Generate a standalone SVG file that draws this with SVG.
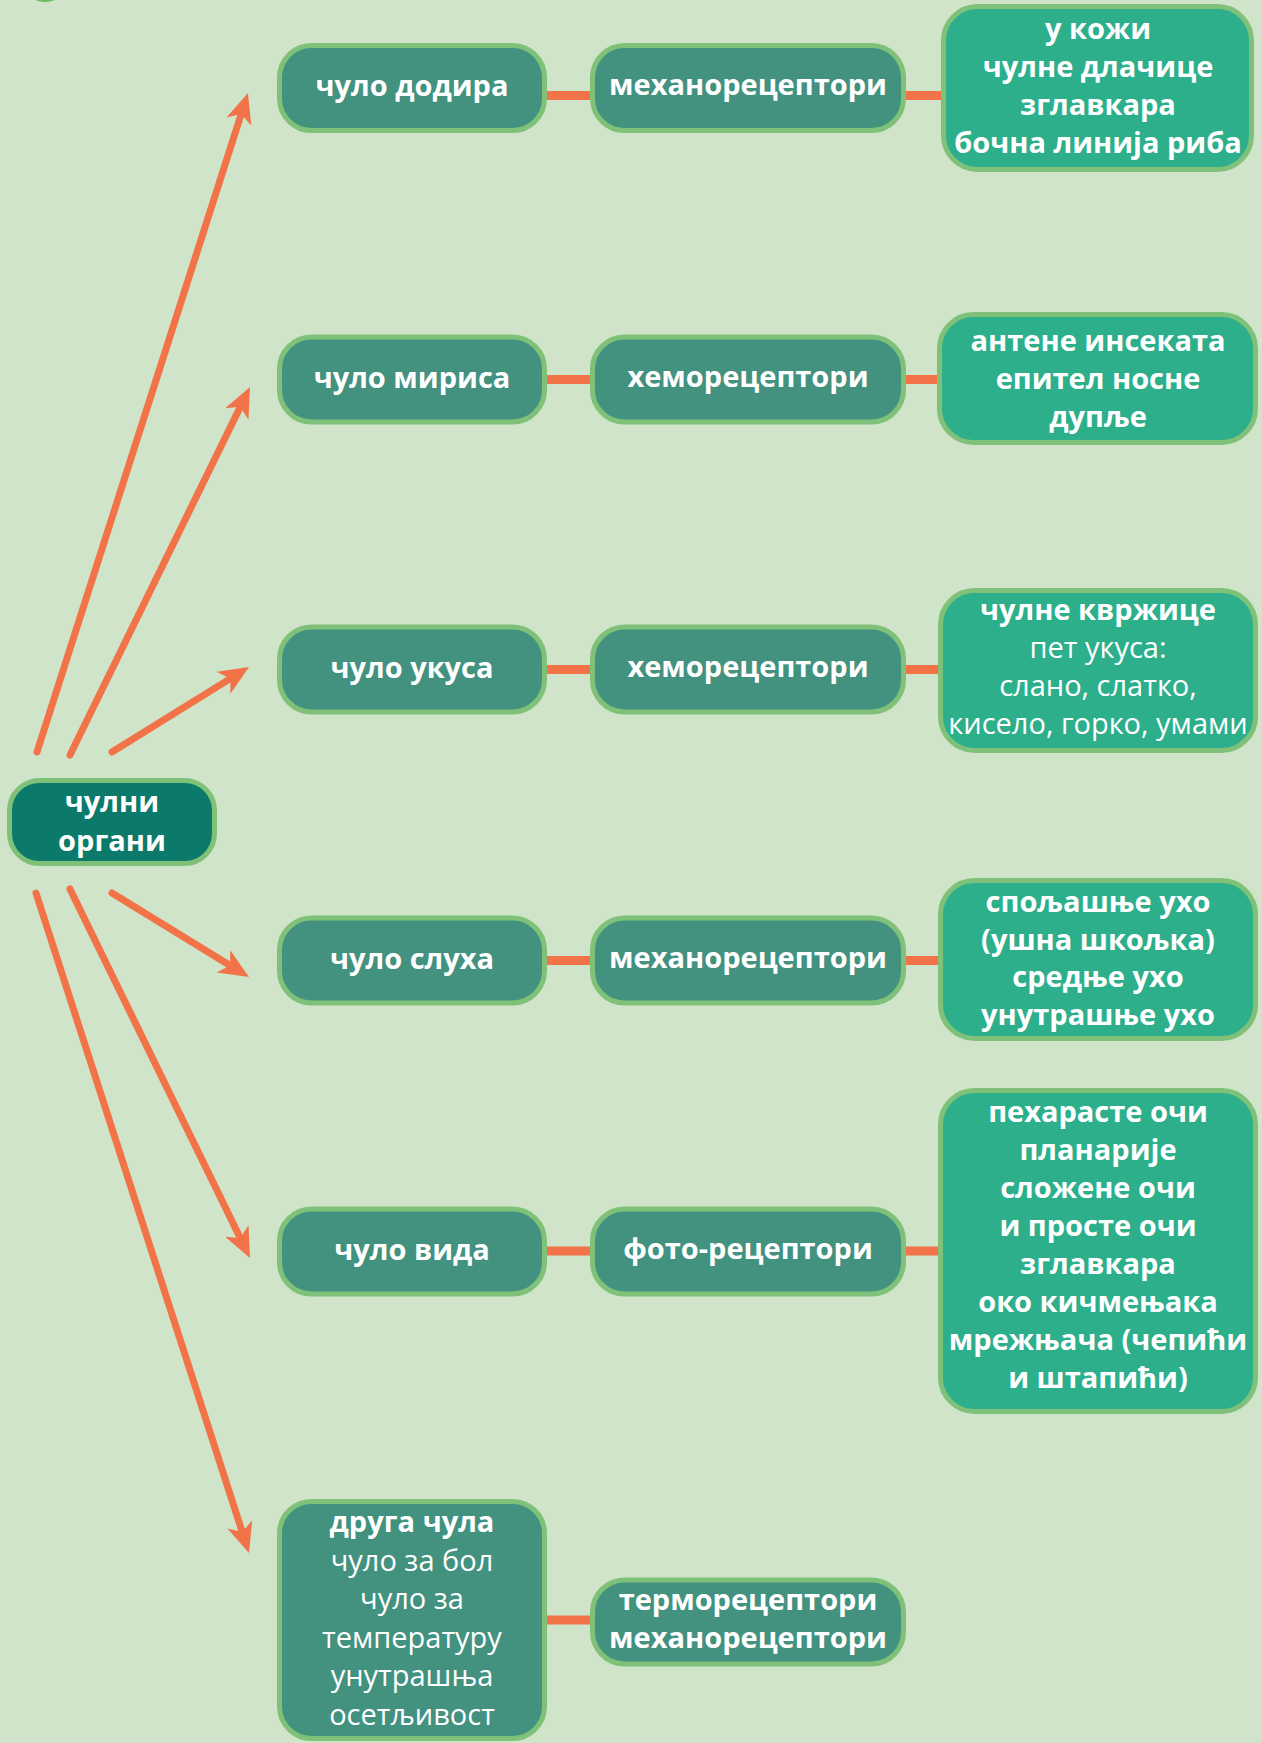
<svg xmlns="http://www.w3.org/2000/svg" width="1262" height="1743" viewBox="0 0 1262 1743">
<defs>
<style>
.bg{fill:#d0e4c9}
.n{fill:#42927f;stroke:#7fc178;stroke-width:5}
.c{fill:#0b7a6a;stroke:#7fc178;stroke-width:5}
.d{fill:#2daf8c;stroke:#7fc178;stroke-width:5}
text{font-family:"Open Sans","Noto Sans","DejaVu Sans",sans-serif;font-size:29px;fill:#ffffff;text-anchor:middle}
.b{font-weight:700}
.r{font-weight:400}
.ar{stroke:#f17347;stroke-width:7;stroke-linecap:round;fill:none}
.ln{stroke:#f17347;stroke-width:9;fill:none}
</style>
<marker id="ah" viewBox="0 0 30 26" markerWidth="30" markerHeight="26" refX="15" refY="13" orient="auto" markerUnits="userSpaceOnUse">
<path d="M0,0 L30,13 L0,26 L8,13 z" fill="#f17347"/>
</marker>
</defs>
<rect class="bg" x="0" y="0" width="1262" height="1743"/>
<circle cx="45" cy="-24" r="26" fill="#6dbb62"/>

<g id="connectors">
<line class="ar" x1="37" y1="752" x2="243.4" y2="107.3" marker-end="url(#ah)"/>
<line class="ar" x1="70" y1="755" x2="243.4" y2="400.5" marker-end="url(#ah)"/>
<line class="ar" x1="112" y1="752" x2="236.3" y2="674.9" marker-end="url(#ah)"/>
<line class="ar" x1="112" y1="893" x2="236.2" y2="969.2" marker-end="url(#ah)"/>
<line class="ar" x1="70" y1="889" x2="243.4" y2="1244.5" marker-end="url(#ah)"/>
<line class="ar" x1="36" y1="893" x2="244.4" y2="1538.7" marker-end="url(#ah)"/>
<line class="ln" x1="545" y1="95.5" x2="593" y2="95.5"/>
<line class="ln" x1="904" y1="95.5" x2="943" y2="95.5"/>
<line class="ln" x1="545" y1="379.5" x2="593" y2="379.5"/>
<line class="ln" x1="904" y1="379.5" x2="941" y2="379.5"/>
<line class="ln" x1="545" y1="669.5" x2="593" y2="669.5"/>
<line class="ln" x1="904" y1="669.5" x2="942" y2="669.5"/>
<line class="ln" x1="545" y1="960.5" x2="593" y2="960.5"/>
<line class="ln" x1="904" y1="960.5" x2="942" y2="960.5"/>
<line class="ln" x1="545" y1="1251" x2="593" y2="1251"/>
<line class="ln" x1="904" y1="1251" x2="942" y2="1251"/>
<line class="ln" x1="545" y1="1620" x2="593" y2="1620"/>
</g>

<g id="root">
<rect class="c" x="9.5" y="780.5" width="205" height="83" rx="30"/>
<text class="b" x="112" y="812">чулни</text>
<text class="b" x="112" y="851">органи</text>
</g>

<g id="touch">
<rect class="n" x="279.5" y="45.5" width="265" height="85" rx="32"/>
<text class="b" x="412" y="96">чуло додира</text>
</g>
<g id="touch-rec">
<rect class="n" x="592.5" y="45.5" width="311" height="85" rx="32"/>
<text class="b" x="748" y="95">механорецептори</text>
</g>
<g id="touch-det">
<rect class="d" x="943.5" y="6.5" width="308" height="163" rx="34"/>
<text class="b" x="1098" y="39">у кожи</text>
<text class="b" x="1098" y="77">чулне длачице</text>
<text class="b" x="1098" y="115">зглавкара</text>
<text class="b" x="1098" y="153">бочна линија риба</text>
</g>

<g id="smell">
<rect class="n" x="279.5" y="337" width="265" height="85" rx="32"/>
<text class="b" x="412" y="388">чуло мириса</text>
</g>
<g id="smell-rec">
<rect class="n" x="592.5" y="337" width="311" height="85" rx="32"/>
<text class="b" x="748" y="387">хеморецептори</text>
</g>
<g id="smell-det">
<rect class="d" x="939.5" y="314.5" width="316" height="128" rx="34"/>
<text class="b" x="1098" y="351">антене инсеката</text>
<text class="b" x="1098" y="389">епител носне</text>
<text class="b" x="1098" y="427">дупље</text>
</g>

<g id="taste">
<rect class="n" x="279.5" y="627" width="265" height="85" rx="32"/>
<text class="b" x="412" y="678">чуло укуса</text>
</g>
<g id="taste-rec">
<rect class="n" x="592.5" y="627" width="311" height="85" rx="32"/>
<text class="b" x="748" y="677">хеморецептори</text>
</g>
<g id="taste-det">
<rect class="d" x="940.5" y="590.5" width="315" height="160" rx="34"/>
<text class="b" x="1098" y="620">чулне квржице</text>
<text class="r" x="1098" y="658">пет укуса:</text>
<text class="r" x="1098" y="696">слано, слатко,</text>
<text class="r" x="1098" y="734">кисело, горко, умами</text>
</g>

<g id="hearing">
<rect class="n" x="279.5" y="918" width="265" height="85" rx="32"/>
<text class="b" x="412" y="969">чуло слуха</text>
</g>
<g id="hearing-rec">
<rect class="n" x="592.5" y="918" width="311" height="85" rx="32"/>
<text class="b" x="748" y="968">механорецептори</text>
</g>
<g id="hearing-det">
<rect class="d" x="940.5" y="880.5" width="315" height="158" rx="34"/>
<text class="b" x="1098" y="912">спољашње ухо</text>
<text class="b" x="1098" y="950">(ушна шкољка)</text>
<text class="b" x="1098" y="987">средње ухо</text>
<text class="b" x="1098" y="1025">унутрашње ухо</text>
</g>

<g id="sight">
<rect class="n" x="279.5" y="1209" width="265" height="85" rx="32"/>
<text class="b" x="412" y="1260">чуло вида</text>
</g>
<g id="sight-rec">
<rect class="n" x="592.5" y="1209" width="311" height="85" rx="32"/>
<text class="b" x="748" y="1259">фото-рецептори</text>
</g>
<g id="sight-det">
<rect class="d" x="940.5" y="1090.5" width="315" height="321" rx="34"/>
<text class="b" x="1098" y="1122">пехарасте очи</text>
<text class="b" x="1098" y="1160">планарије</text>
<text class="b" x="1098" y="1198">сложене очи</text>
<text class="b" x="1098" y="1236">и просте очи</text>
<text class="b" x="1098" y="1274">зглавкара</text>
<text class="b" x="1098" y="1312">око кичмењака</text>
<text class="b" x="1098" y="1350">мрежњача (чепићи</text>
<text class="b" x="1098" y="1388">и штапићи)</text>
</g>

<g id="other">
<rect class="n" x="279.5" y="1501.5" width="265" height="237" rx="32"/>
<text class="b" x="412" y="1532">друга чула</text>
<text class="r" x="412" y="1570.5">чуло за бол</text>
<text class="r" x="412" y="1609">чуло за</text>
<text class="r" x="412" y="1647.5">температуру</text>
<text class="r" x="412" y="1686">унутрашња</text>
<text class="r" x="412" y="1724.5">осетљивост</text>
</g>
<g id="other-rec">
<rect class="n" x="592.5" y="1580" width="311" height="84" rx="32"/>
<text class="b" x="748" y="1610">терморецептори</text>
<text class="b" x="748" y="1648">механорецептори</text>
</g>
</svg>
